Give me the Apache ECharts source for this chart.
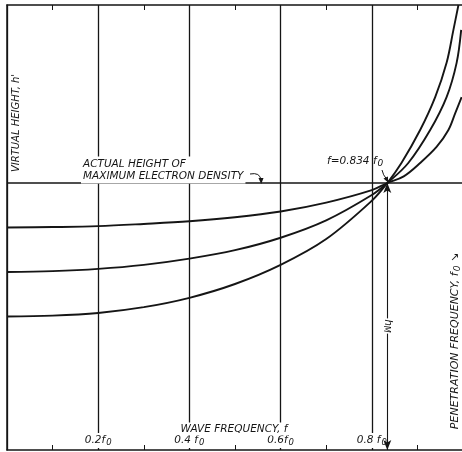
<!DOCTYPE html>
<html>
<head>
<meta charset="utf-8">
<script src="https://cdn.jsdelivr.net/npm/echarts@6/dist/echarts.min.js"></script>
<style>
    html, body { margin: 0; padding: 0; background: #fff; }
    #main { width: 462px; height: 452px; }
</style>
</head>
<body>
<div id="main"></div>
<script>
// wave frequency f (fraction of f0) and virtual height h' (arbitrary units, hM = 6)
var lowFreq = [0, 0.1, 0.2, 0.3, 0.4, 0.5, 0.6, 0.7, 0.8, 0.834, 0.865, 0.906, 0.939, 0.964, 0.979, 0.990];
var lowHeight = [3.0, 3.02, 3.08, 3.21, 3.42, 3.73, 4.16, 4.74, 5.60, 6.0, 6.45, 7.19, 7.93, 8.70, 9.44, 10.0];

var midFreq = [0, 0.1, 0.2, 0.3, 0.4, 0.5, 0.6, 0.7, 0.8, 0.834, 0.880, 0.928, 0.964, 0.986, 0.996];
var midHeight = [4.0, 4.02, 4.07, 4.16, 4.30, 4.49, 4.77, 5.16, 5.73, 6.0, 6.45, 7.19, 7.93, 8.70, 9.44];

var highFreq = [0, 0.1, 0.2, 0.3, 0.4, 0.5, 0.6, 0.7, 0.8, 0.834, 0.870, 0.906, 0.942, 0.968, 0.983, 0.997];
var highHeight = [5.0, 5.01, 5.03, 5.08, 5.14, 5.23, 5.36, 5.56, 5.84, 6.0, 6.15, 6.45, 6.81, 7.19, 7.57, 7.93];

var xTickLabels = ['', '0.2f{s|0}', '0.4 f{s|0}', '0.6f{s|0}', '0.8 f{s|0}', ''];
var crossF = 0.834;   // f = 0.834 f0
var hM = 6;           // actual height of maximum electron density

var FONT = 'DejaVu Sans';
var INK = '#151515';

function pairs(xs, ys) {
    var out = [];
    for (var i = 0; i < xs.length; i++) {
        out.push([xs[i], ys[i]]);
    }
    return out;
}

var myChart = echarts.init(document.getElementById('main'), null, {renderer: 'canvas'});

var lineStyle = {color: INK, width: 1.9};

function curve(xs, ys) {
    return {
        type: 'line', data: pairs(xs, ys),
        smooth: 0.35,
        showSymbol: false, lineStyle: lineStyle
    };
}

var highSeries = curve(highFreq, highHeight);
highSeries.markLine = {
    silent: true, symbol: 'none', animation: false,
    label: {show: false},
    lineStyle: {color: INK, width: 1.5, type: 'solid'},
    data: [
        {yAxis: hM},
        [
            {coord: [crossF, 0], symbol: 'arrow', symbolSize: [6, 10], lineStyle: {width: 1.1, color: INK, type: 'solid'}},
            {coord: [crossF, hM], symbol: 'arrow', symbolSize: [6, 10]}
        ]
    ]
};

var option = {
    animation: false,
    backgroundColor: '#fff',
    grid: {left: 7, top: 5, width: 456, height: 445, containLabel: false, outerBoundsMode: 'none'},
    xAxis: [
        {
            type: 'value', min: 0, max: 1, interval: 0.2, position: 'bottom',
            axisLine: {show: true, onZero: false, lineStyle: {color: INK, width: 1.5}},
            axisTick: {show: true, inside: true, length: 5, lineStyle: {color: INK}},
            minorTick: {show: true, splitNumber: 2, length: 5, lineStyle: {color: INK}},
            splitLine: {show: true, lineStyle: {color: INK, width: 1.3}},
            axisLabel: {
                inside: true, margin: 2,
                fontFamily: FONT, fontStyle: 'italic', fontSize: 10.5, color: INK,
                backgroundColor: '#fff', padding: [0, 1, 1, 1],
                rich: {s: {fontFamily: FONT, fontStyle: 'italic', fontSize: 8.5, color: INK, padding: [5, 0, 0, 1]}},
                formatter: function (v) {
                    return xTickLabels[Math.round(v / 0.2)] || '';
                }
            }
        },
        {
            type: 'value', min: 0, max: 1, interval: 0.2, position: 'top',
            axisLine: {show: true, onZero: false, lineStyle: {color: INK, width: 1.5}},
            axisTick: {show: true, inside: true, length: 5, lineStyle: {color: INK}},
            minorTick: {show: true, splitNumber: 2, length: 5, lineStyle: {color: INK}},
            splitLine: {show: false},
            axisLabel: {show: false}
        }
    ],
    yAxis: {
        type: 'value', min: 0, max: 10,
        axisLine: {show: true, onZero: false, lineStyle: {color: INK, width: 1.5}},
        axisTick: {show: false},
        axisLabel: {show: false},
        splitLine: {show: false}
    },
    series: [
        highSeries,
        curve(midFreq, midHeight),
        curve(lowFreq, lowHeight)
    ],
    graphic: [
        {
            type: 'text', x: 16, y: 123, rotation: Math.PI / 2, z: 100,
            style: {text: "VIRTUAL HEIGHT, h'", font: 'italic 10px "DejaVu Sans"', fill: INK, align: 'center', verticalAlign: 'middle'}
        },
        {
            type: 'text', x: 81, y: 170, z: 100,
            style: {
                text: 'ACTUAL HEIGHT OF\nMAXIMUM ELECTRON DENSITY',
                font: 'italic 10.5px "DejaVu Sans"', lineHeight: 12, fill: INK,
                align: 'left', verticalAlign: 'middle',
                backgroundColor: '#fff', padding: [2, 2, 1, 2]
            }
        },
        {
            type: 'bezierCurve', z: 100,
            shape: {x1: 250, y1: 174, cpx1: 260, cpy1: 172, x2: 261, y2: 180},
            style: {stroke: INK, lineWidth: 1, fill: null}
        },
        {
            type: 'polygon', z: 100,
            shape: {points: [[258.5, 178], [263.5, 178], [261.2, 184]]},
            style: {fill: INK}
        },
        {
            type: 'text', x: 327, y: 161, z: 100,
            style: {
                text: 'f=0.834 f{s|0}', font: 'italic 10.5px "DejaVu Sans"', fill: INK,
                align: 'left', verticalAlign: 'middle',
                rich: {s: {font: 'italic 9px "DejaVu Sans"', fill: INK, padding: [5, 0, 0, 1]}}
            }
        },
        {
            type: 'bezierCurve', z: 100,
            shape: {x1: 382, y1: 170, cpx1: 383, cpy1: 175, x2: 386.5, y2: 179},
            style: {stroke: INK, lineWidth: 1, fill: null}
        },
        {
            type: 'polygon', z: 100,
            shape: {points: [[383.5, 178.5], [388, 176.5], [388, 182.5]]},
            style: {fill: INK}
        },
        {
            type: 'text', x: 388, y: 326, rotation: -Math.PI / 2, z: 100,
            style: {
                text: 'h{s|M}', font: 'italic 10px "DejaVu Sans"', fill: INK,
                align: 'center', verticalAlign: 'middle',
                backgroundColor: '#fff', padding: [1, 1],
                rich: {s: {font: 'italic 8px "DejaVu Sans"', fill: INK, padding: [4, 0, 0, 0]}}
            }
        },
        {
            type: 'text', x: 455, y: 341, rotation: Math.PI / 2, z: 100,
            style: {
                text: 'PENETRATION FREQUENCY, f{s|0} \u2198', font: 'italic 11px "DejaVu Sans"', fill: INK,
                align: 'center', verticalAlign: 'middle',
                rich: {s: {font: 'italic 9px "DejaVu Sans"', fill: INK, padding: [5, 0, 0, 1]}}
            }
        },
        {
            type: 'text', x: 234, y: 429, z: 100,
            style: {
                text: 'WAVE FREQUENCY, f', font: 'italic 10.5px "DejaVu Sans"', fill: INK,
                align: 'center', verticalAlign: 'middle',
                backgroundColor: '#fff', padding: [2, 1, 0, 1]
            }
        }
    ]
};

myChart.setOption(option);
</script>
</body>
</html>
